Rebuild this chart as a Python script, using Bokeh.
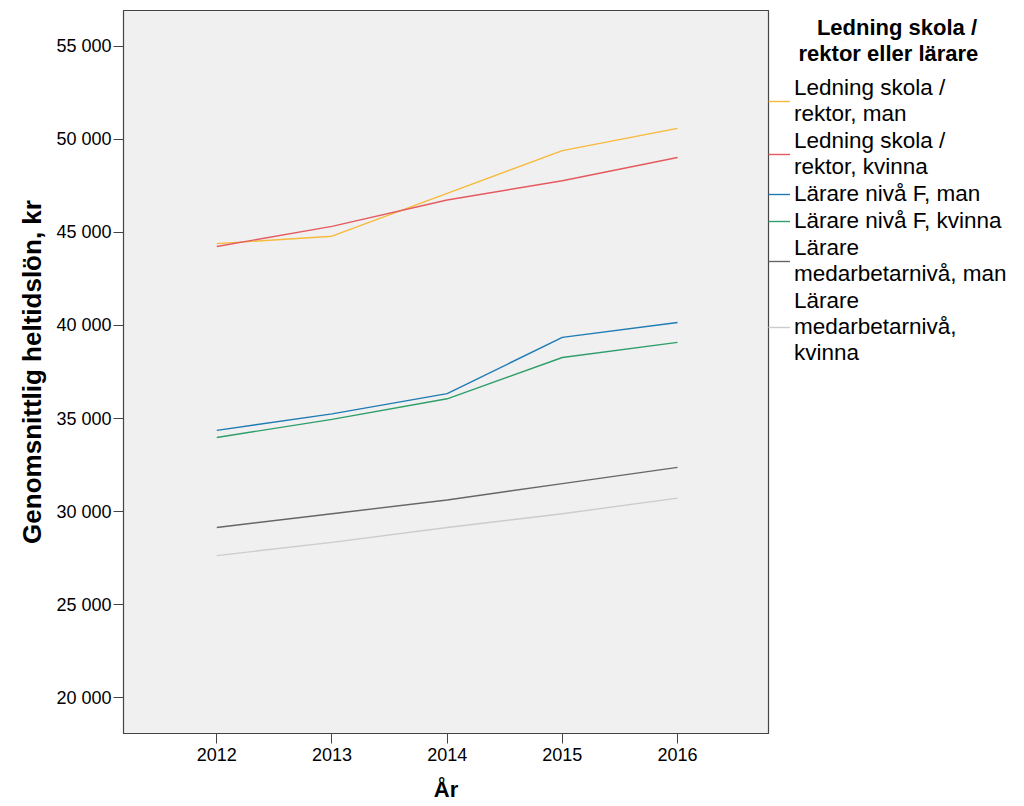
from bokeh.plotting import figure
from bokeh.models import Range1d, FixedTicker, Legend, LegendItem
from bokeh.embed import file_html
from bokeh.resources import INLINE

years = [2012, 2013, 2014, 2015, 2016]
series_names = [
    "Ledning skola /\nrektor, man",
    "Ledning skola /\nrektor, kvinna",
    "Lärare nivå F, man",
    "Lärare nivå F, kvinna",
    "Lärare\nmedarbetarnivå, man",
    "Lärare\nmedarbetarnivå,\nkvinna",
]
ledning_man = [44400, 44800, 47100, 49400, 50600]
ledning_kvinna = [44250, 45330, 46750, 47780, 49030]
larare_f_man = [34360, 35250, 36340, 39360, 40160]
larare_f_kvinna = [33980, 34950, 36060, 38280, 39090]
medarb_man = [29140, 29880, 30620, 31500, 32370]
medarb_kvinna = [27630, 28340, 29140, 29880, 30720]
series_values = [ledning_man, ledning_kvinna, larare_f_man, larare_f_kvinna, medarb_man, medarb_kvinna]
colors = ["#F7B93A", "#E55A5F", "#1F7BB5", "#2E9E6A", "#666666", "#CCCCCC"]

y_ticks = [20000, 25000, 30000, 35000, 40000, 45000, 50000, 55000]
y_tick_labels = ["20 000", "25 000", "30 000", "35 000", "40 000", "45 000", "50 000", "55 000"]

NB = "\u00a0"
legend_title = NB * 8 + "Ledning skola /\n" + NB * 5 + "rektor eller lärare"

p = figure(frame_width=645, frame_height=723, output_backend="svg", toolbar_location=None,
           x_range=Range1d(2011.19, 2016.79), y_range=Range1d(18065, 56935),
           min_border_left=123, min_border_top=10, min_border_bottom=5, min_border_right=10,
           background_fill_color="#F0F0F0", border_fill_color="white")
p.outline_line_color = "#444444"
p.outline_line_width = 1.2
p.grid.visible = False

items = []
for name, vals, c in zip(series_names, series_values, colors):
    r = p.line(years, vals, line_color=c, line_width=1.4)
    items.append(LegendItem(label=name, renderers=[r]))

legend = Legend(items=items, location=(0, 367), title=legend_title,
                title_text_font="Liberation Sans", title_text_font_style="bold", title_text_font_size="22px",
                title_text_color="black", title_text_line_height=0.95, title_standoff=8,
                label_text_font="Liberation Sans", label_text_font_size="22.5px", label_text_line_height=1.0,
                label_text_color="black",
                glyph_width=22, glyph_height=26, label_standoff=4, spacing=1, padding=0,
                margin=0, border_line_color=None, background_fill_alpha=0)
p.add_layout(legend, "right")

p.xaxis.ticker = FixedTicker(ticks=years)
p.yaxis.ticker = FixedTicker(ticks=y_ticks)
p.yaxis.major_label_overrides = {t: l for t, l in zip(y_ticks, y_tick_labels)}
for ax in (p.xaxis, p.yaxis):
    ax.minor_tick_line_color = None
    ax.major_tick_in = 0
    ax.major_tick_out = 10
    ax.major_label_text_font = "Liberation Sans"
    ax.major_label_text_font_size = "18px"
    ax.major_label_text_color = "black"
    ax.axis_label_text_font = "Liberation Sans"
    ax.axis_label_text_font_style = "bold"
    ax.axis_label_text_color = "black"
    ax.axis_line_color = "#444444"
    ax.major_tick_line_color = "#444444"
p.xaxis.axis_label = "År"
p.xaxis.axis_label_text_font_size = "22px"
p.xaxis.axis_label_standoff = 13
p.yaxis.axis_label = "Genomsnittlig heltidslön, kr"
p.yaxis.axis_label_text_font_size = "26px"
p.yaxis.axis_label_standoff = 6
p.xaxis.major_label_standoff = 4
p.yaxis.major_label_standoff = 2

open("out.html", "w").write(file_html(p, INLINE))
